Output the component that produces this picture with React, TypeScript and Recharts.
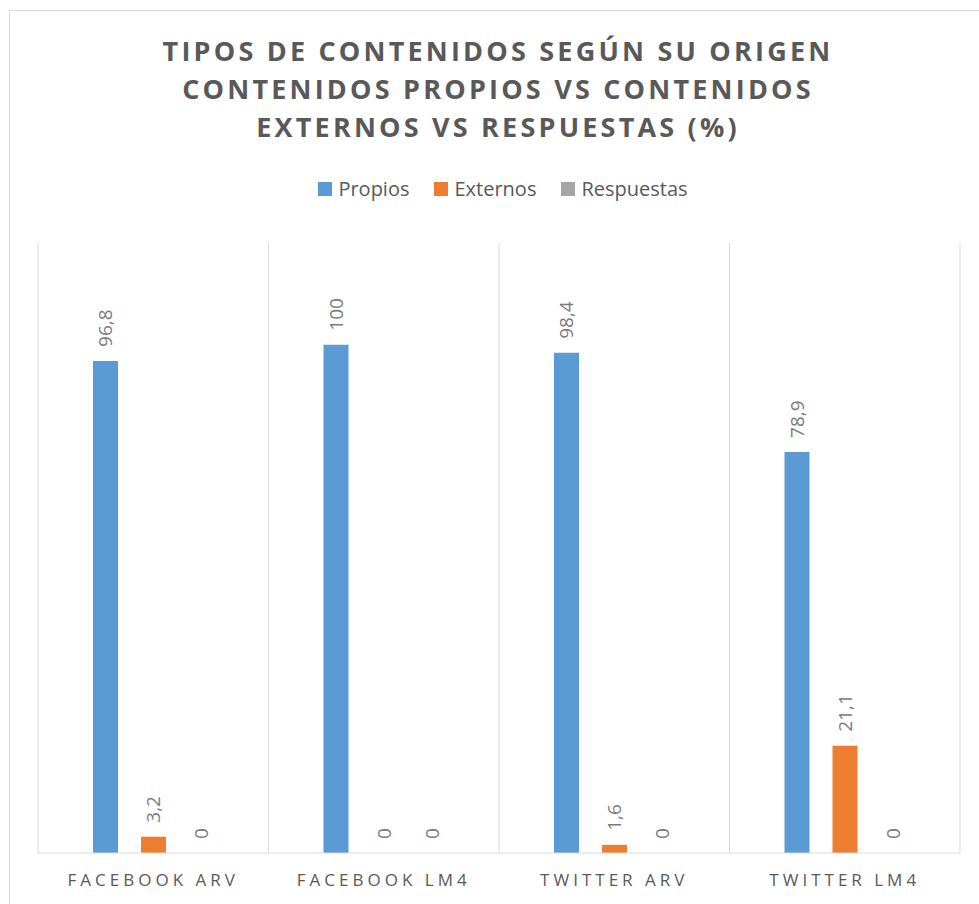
import React from 'react';
import { BarChart, Bar, XAxis, YAxis, CartesianGrid, LabelList } from 'recharts';

const categories = ['FACEBOOK ARV', 'FACEBOOK LM4', 'TWITTER ARV', 'TWITTER LM4'];
const propios = [96.8, 100, 98.4, 78.9];
const externos = [3.2, 0, 1.6, 21.1];
const respuestas = [0, 0, 0, 0];

const titleLines = [
  'TIPOS DE CONTENIDOS SEGÚN SU ORIGEN',
  'CONTENIDOS PROPIOS VS CONTENIDOS',
  'EXTERNOS VS RESPUESTAS (%)',
];

const series = [
  { key: 'propios', name: 'Propios', color: '#5b9bd5' },
  { key: 'externos', name: 'Externos', color: '#ed7d31' },
  { key: 'respuestas', name: 'Respuestas', color: '#a5a5a5' },
];

const data = categories.map((c, i) => ({
  name: c,
  propios: propios[i],
  externos: externos[i],
  respuestas: respuestas[i],
}));

const FONT = '"Open Sans", "Noto Sans", sans-serif';

const fmt = (v: number) => String(v).replace('.', ',');

const ValueLabel = (props: any) => {
  const { x, y, width, value } = props;
  if (x == null || y == null) return null;
  const cx = x + width / 2;
  const cy = y - 14;
  return (
    <text x={cx} y={cy} transform={`rotate(-90, ${cx}, ${cy})`} textAnchor="start"
      dominantBaseline="central" fill="#7a7a7a" fontSize={19} fontFamily={FONT}>
      {fmt(value)}
    </text>
  );
};

const CategoryTick = (props: any) => {
  const { x, y, payload } = props;
  return (
    <text x={x} y={y + 18} textAnchor="middle" dominantBaseline="central"
      fill="#595959" fontSize={17} letterSpacing={4} fontFamily={FONT}>
      {payload.value}
    </text>
  );
};

const bandLines = ({ offset }: any) => {
  const step = offset.width / categories.length;
  return Array.from({ length: categories.length + 1 }, (_, i) => offset.left + i * step);
};

export default function App() {
  return (
    <div style={{ position: 'fixed', left: 0, top: 0, width: 979, height: 904, overflow: 'hidden', background: '#fff' }}>
      <div style={{ position: 'absolute', left: 9, top: 10, width: 1000, height: 1000, border: '1px solid #d9d9d9', boxSizing: 'border-box' }} />
      <div style={{
        position: 'absolute', left: 0, top: 32, width: 996, textAlign: 'center',
        fontFamily: FONT, fontWeight: 700, fontSize: 27, lineHeight: '38px',
        letterSpacing: 3.2, color: '#595959',
      }}>
        {titleLines.map(l => <div key={l}>{l}</div>)}
      </div>
      <div style={{
        position: 'absolute', left: 0, top: 175, width: 1006, display: 'flex', justifyContent: 'center',
        gap: 25, fontFamily: FONT, fontSize: 20, color: '#595959',
      }}>
        {series.map(s => (
          <div key={s.key} style={{ display: 'flex', alignItems: 'center', gap: 6 }}>
            <div style={{ width: 14, height: 14, background: s.color }} />
            <span>{s.name}</span>
          </div>
        ))}
      </div>
      <div style={{ position: 'absolute', left: 0, top: 0 }}>
        <BarChart width={979} height={904} data={data}
          margin={{ top: 243, right: 19, left: 38, bottom: 11 }}
          barSize={25} barGap={23}>
          <CartesianGrid horizontal={false} stroke="#d9d9d9" verticalCoordinatesGenerator={bandLines} />
          <XAxis dataKey="name" height={40} tickLine={false} axisLine={{ stroke: '#d9d9d9' }}
            tick={<CategoryTick />} interval={0} />
          <YAxis hide domain={[0, 120]} />
          {series.map(s => (
            <Bar key={s.key} dataKey={s.key} name={s.name} fill={s.color} minPointSize={0.01}
              isAnimationActive={false}>
              <LabelList dataKey={s.key} content={<ValueLabel />} />
            </Bar>
          ))}
        </BarChart>
      </div>
    </div>
  );
}
